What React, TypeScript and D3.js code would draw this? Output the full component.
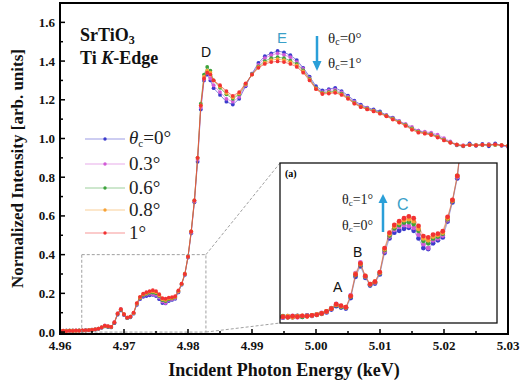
import React from 'react';
import * as d3 from 'd3';

// photon energy grid (keV): fine steps over the pre-edge, 1 eV after the edge
const energy = [
  4.9600, 4.9605, 4.9610, 4.9615, 4.9620, 4.9625, 4.9630, 4.9635, 4.9640, 4.9645,
  4.9650, 4.9655, 4.9660, 4.9665, 4.9670, 4.9675, 4.9680, 4.9685, 4.9690, 4.9695,
  4.9700, 4.9705, 4.9710, 4.9715, 4.9720, 4.9725, 4.9730, 4.9735, 4.9740, 4.9745,
  4.9750, 4.9755, 4.9760, 4.9765, 4.9770, 4.9775, 4.9780, 4.9785,
  4.9790, 4.9795, 4.9800, 4.9805, 4.9810, 4.9815, 4.9820, 4.9825, 4.9830, 4.9835, 4.9840,
  4.985, 4.986, 4.987, 4.988, 4.989, 4.990, 4.991, 4.992, 4.993, 4.994,
  4.995, 4.996, 4.997, 4.998, 4.999, 5.000, 5.001, 5.002, 5.003, 5.004,
  5.005, 5.006, 5.007, 5.008, 5.009, 5.010, 5.011, 5.012, 5.013, 5.014,
  5.015, 5.016, 5.017, 5.018, 5.019, 5.020, 5.021, 5.022, 5.023, 5.024,
  5.025, 5.026, 5.027, 5.028, 5.029, 5.030,
];

const theta0 = [
  0.004, 0.006, 0.007, 0.005, 0.008, 0.006, 0.009, 0.007, 0.010, 0.009,
  0.012, 0.013, 0.016, 0.022, 0.029, 0.026, 0.024, 0.046, 0.090, 0.112,
  0.088, 0.072, 0.076, 0.095, 0.140, 0.170, 0.182, 0.186, 0.190, 0.192,
  0.186, 0.170, 0.150, 0.148, 0.160, 0.166, 0.172, 0.205,
  0.245, 0.295, 0.385, 0.51, 0.67, 0.88, 1.15, 1.30, 1.33, 1.30, 1.26,
  1.225, 1.190, 1.175, 1.205, 1.270, 1.335, 1.390, 1.425, 1.440, 1.452,
  1.445, 1.430, 1.405, 1.365, 1.320, 1.270, 1.248, 1.255, 1.262, 1.245,
  1.222, 1.195, 1.175, 1.160, 1.150, 1.140, 1.120, 1.108, 1.090, 1.072,
  1.050, 1.040, 1.030, 1.025, 1.012, 0.995, 0.980, 0.965, 0.960, 0.975,
  0.962, 0.972, 0.960, 0.975, 0.962, 0.958,
];

const theta03 = [
  0.005, 0.006, 0.008, 0.006, 0.007, 0.009, 0.006, 0.008, 0.010, 0.009,
  0.012, 0.015, 0.017, 0.025, 0.034, 0.029, 0.026, 0.052, 0.098, 0.120,
  0.090, 0.074, 0.078, 0.098, 0.143, 0.174, 0.188, 0.194, 0.198, 0.196,
  0.192, 0.178, 0.158, 0.150, 0.166, 0.170, 0.176, 0.208,
  0.248, 0.298, 0.388, 0.515, 0.675, 0.89, 1.16, 1.305, 1.34, 1.31, 1.275,
  1.240, 1.205, 1.190, 1.215, 1.275, 1.335, 1.380, 1.415, 1.430, 1.440,
  1.432, 1.420, 1.395, 1.360, 1.312, 1.262, 1.240, 1.248, 1.252, 1.238,
  1.215, 1.190, 1.170, 1.158, 1.145, 1.135, 1.120, 1.105, 1.090, 1.075,
  1.060, 1.040, 1.035, 1.030, 1.020, 1.002, 0.985, 0.970, 0.965, 0.970,
  0.968, 0.965, 0.972, 0.968, 0.966, 0.960,
];

const theta06 = [
  0.006, 0.005, 0.007, 0.008, 0.006, 0.007, 0.008, 0.007, 0.009, 0.010,
  0.011, 0.014, 0.018, 0.024, 0.031, 0.028, 0.026, 0.049, 0.094, 0.116,
  0.091, 0.074, 0.079, 0.098, 0.146, 0.176, 0.191, 0.198, 0.203, 0.204,
  0.200, 0.186, 0.165, 0.160, 0.170, 0.174, 0.180, 0.210,
  0.248, 0.300, 0.390, 0.52, 0.68, 0.90, 1.18, 1.33, 1.37, 1.35, 1.30,
  1.262, 1.228, 1.205, 1.228, 1.280, 1.332, 1.372, 1.400, 1.415, 1.420,
  1.415, 1.402, 1.385, 1.352, 1.308, 1.260, 1.236, 1.240, 1.245, 1.232,
  1.210, 1.185, 1.166, 1.154, 1.144, 1.133, 1.118, 1.102, 1.086, 1.070,
  1.052, 1.036, 1.028, 1.022, 1.010, 0.994, 0.980, 0.968, 0.962, 0.968,
  0.965, 0.967, 0.968, 0.966, 0.966, 0.962,
];

const theta08 = [
  0.005, 0.007, 0.006, 0.007, 0.008, 0.006, 0.008, 0.009, 0.008, 0.010,
  0.012, 0.014, 0.018, 0.024, 0.032, 0.029, 0.027, 0.050, 0.096, 0.117,
  0.092, 0.075, 0.080, 0.099, 0.148, 0.179, 0.195, 0.202, 0.208, 0.210,
  0.206, 0.190, 0.170, 0.166, 0.174, 0.177, 0.182, 0.212,
  0.249, 0.300, 0.390, 0.52, 0.68, 0.90, 1.17, 1.32, 1.35, 1.34, 1.30,
  1.268, 1.235, 1.212, 1.232, 1.282, 1.330, 1.368, 1.392, 1.405, 1.410,
  1.405, 1.395, 1.378, 1.346, 1.304, 1.258, 1.233, 1.236, 1.240, 1.228,
  1.208, 1.182, 1.164, 1.152, 1.142, 1.130, 1.116, 1.100, 1.084, 1.068,
  1.048, 1.033, 1.027, 1.020, 1.008, 0.992, 0.979, 0.968, 0.963, 0.967,
  0.965, 0.968, 0.967, 0.968, 0.965, 0.962,
];

const theta1 = [
  0.006, 0.007, 0.005, 0.007, 0.006, 0.008, 0.007, 0.009, 0.008, 0.010,
  0.011, 0.014, 0.018, 0.024, 0.033, 0.030, 0.027, 0.050, 0.095, 0.118,
  0.092, 0.075, 0.080, 0.100, 0.150, 0.182, 0.198, 0.206, 0.212, 0.216,
  0.212, 0.196, 0.175, 0.172, 0.178, 0.180, 0.185, 0.215,
  0.25, 0.30, 0.39, 0.52, 0.68, 0.90, 1.17, 1.31, 1.34, 1.33, 1.30,
  1.275, 1.245, 1.220, 1.240, 1.285, 1.330, 1.365, 1.385, 1.395, 1.398,
  1.395, 1.385, 1.370, 1.340, 1.300, 1.255, 1.230, 1.232, 1.236, 1.225,
  1.205, 1.180, 1.162, 1.150, 1.140, 1.128, 1.115, 1.098, 1.082, 1.065,
  1.045, 1.030, 1.025, 1.018, 1.005, 0.990, 0.978, 0.968, 0.962, 0.966,
  0.964, 0.968, 0.966, 0.970, 0.965, 0.962,
];

const seriesNames = ['0', '0.3°', '0.6°', '0.8°', '1°'];
const seriesValues = [theta0, theta03, theta06, theta08, theta1];
const colors = ['#3b3bcc', '#d25bd6', '#3da33d', '#f7a235', '#f23232'];

const xTicks = [4.96, 4.97, 4.98, 4.99, 5.0, 5.01, 5.02, 5.03];
const yTicks = [0, 0.2, 0.4, 0.6, 0.8, 1.0, 1.2, 1.4, 1.6];

const serif = "'Liberation Serif', 'Times New Roman', Times, serif";
const sans = "'Liberation Sans', Arial, Helvetica, sans-serif";

export default function App() {
  const W = 525, H = 383;
  const m = { top: 3, right: 16, bottom: 49, left: 60 };
  const x = d3.scaleLinear().domain([4.96, 5.03]).range([m.left, W - m.right - 1]);
  const y = d3.scaleLinear().domain([-0.01, 1.7]).range([H - m.bottom, m.top]);

  // inset (a): magnified pre-edge
  const ix = d3.scaleLinear().domain([4.9612, 4.9836]).range([280, 497]);
  const iy = d3.scaleLinear().domain([-0.006, 0.327]).range([323, 163]);

  const series = seriesValues.map((vals, i) => ({
    name: seriesNames[i],
    color: colors[i],
    pts: energy.map((e, j) => ({ e, v: vals[j] })),
  }));

  const line = d3.line<{ e: number; v: number }>().x(d => x(d.e)).y(d => y(d.v));
  const iline = d3.line<{ e: number; v: number }>().x(d => ix(d.e)).y(d => iy(d.v));

  const xMinor = x.ticks(14);
  const yMinor = d3.range(0, 1.65, 0.1);

  const [x0, x1] = x.range();
  const [y0, y1] = y.range();

  // zoom box in data units
  const bx0 = x(4.9634), bx1 = x(4.9828), by0 = y(0.4), by1 = y(0);

  const legendY = [139, 164, 188, 210, 233];

  return (
    <svg width={W} height={H} style={{ position: 'absolute', left: 0, top: 0, background: '#fff' }}>
      <defs>
        <clipPath id="main-clip"><rect x={x0} y={y1} width={x1 - x0} height={y0 - y1} /></clipPath>
        <clipPath id="inset-clip"><rect x={280} y={163} width={217} height={160} /></clipPath>
      </defs>

      {/* data */}
      <g clipPath="url(#main-clip)">
        {series.map(s => (
          <g key={s.name}>
            <path d={line(s.pts) || ''} fill="none" stroke={s.color} strokeWidth={1} opacity={0.6} />
            {s.pts.map((p, j) => (
              <circle key={j} cx={x(p.e)} cy={y(p.v)} r={1.9} fill={s.color} />
            ))}
          </g>
        ))}
      </g>

      {/* zoom box + connectors */}
      <g stroke="#888" strokeWidth={0.8} strokeDasharray="3,2" fill="none">
        <rect x={bx0} y={by0} width={bx1 - bx0} height={by1 - by0} />
        <line x1={bx1} y1={by0} x2={280} y2={163} />
        <line x1={bx1} y1={by1} x2={280} y2={323} />
      </g>

      {/* inset */}
      <rect x={280} y={163} width={217} height={160} fill="#fff" stroke="none" />
      <g clipPath="url(#inset-clip)">
        {series.map(s => (
          <g key={s.name}>
            <path d={iline(s.pts) || ''} fill="none" stroke={s.color} strokeWidth={0.8} opacity={0.5} />
            {s.pts.map((p, j) => (
              <circle key={j} cx={ix(p.e)} cy={iy(p.v)} r={2.4} fill={s.color} />
            ))}
          </g>
        ))}
      </g>
      <rect x={280} y={163} width={217} height={160} fill="none" stroke="#111" strokeWidth={1.3} />
      <text x={285} y={177} fontFamily={serif} fontWeight="bold" fontSize={10}>(a)</text>

      {/* inset annotations */}
      <g fontFamily={serif} fontSize={14} fill="#222">
        <text x={342} y={204}>θ<tspan dy={2} fontSize={9}>c</tspan><tspan dy={-2}>=1°</tspan></text>
        <text x={342} y={230}>θ<tspan dy={2} fontSize={9}>c</tspan><tspan dy={-2}>=0°</tspan></text>
      </g>
      <line x1={383} y1={232} x2={383} y2={202} stroke="#2a9fd8" strokeWidth={2.5} />
      <path d="M378.5,203 L383,194 L387.5,203 Z" fill="#2a9fd8" />
      <text x={397} y={210} fontFamily={sans} fontSize={16} fill="#3aa0c8">C</text>
      <text x={353} y={257} fontFamily={sans} fontSize={14} fill="#111">B</text>
      <text x={333} y={292} fontFamily={sans} fontSize={14} fill="#111">A</text>

      {/* main annotations */}
      <text x={201} y={57} fontFamily={sans} fontSize={14} fill="#111">D</text>
      <text x={277} y={43} fontFamily={sans} fontSize={15} fill="#3aa0c8">E</text>
      <line x1={317} y1={36} x2={317} y2={62} stroke="#2a9fd8" strokeWidth={2.5} />
      <path d="M312.5,61 L317,71 L321.5,61 Z" fill="#2a9fd8" />
      <g fontFamily={serif} fontSize={15} fill="#222">
        <text x={328} y={43}>θ<tspan dy={2} fontSize={10}>c</tspan><tspan dy={-2}>=0°</tspan></text>
        <text x={328} y={68}>θ<tspan dy={2} fontSize={10}>c</tspan><tspan dy={-2}>=1°</tspan></text>
      </g>

      {/* sample label */}
      <g fontFamily={serif} fontWeight="bold" fontSize={18} fill="#111">
        <text x={80} y={41}>SrTiO<tspan dy={3} fontSize={12}>3</tspan></text>
        <text x={80} y={64}>Ti <tspan fontStyle="italic">K</tspan>-Edge</text>
      </g>

      {/* legend */}
      {series.map((s, i) => (
        <g key={s.name} transform={`translate(0,${legendY[i]})`}>
          <line x1={85} x2={125} y1={0} y2={0} stroke={s.color} strokeWidth={1} opacity={0.5} />
          <circle cx={105} cy={0} r={1.7} fill={s.color} />
          {i === 0 ? (
            <text x={129} y={5} fontFamily={serif} fontSize={19} fill="#222">
              <tspan fontStyle="italic">θ</tspan><tspan dy={3} fontSize={11}>c</tspan><tspan dy={-3}>=0°</tspan>
            </text>
          ) : (
            <text x={129} y={6} fontFamily={serif} fontSize={19} fill="#222">{s.name}</text>
          )}
        </g>
      ))}

      {/* axes frame */}
      <rect x={x0} y={y1} width={x1 - x0} height={y0 - y1} fill="none" stroke="#000" strokeWidth={2} />
      <g stroke="#000" strokeWidth={1.5}>
        {xMinor.map(t => (
          <line key={'xm' + t} x1={x(t)} x2={x(t)} y1={y0} y2={y0 - (xTicks.some(v => Math.abs(v - t) < 1e-6) ? 5 : 3)} />
        ))}
        {yMinor.map(t => (
          <line key={'ym' + t} x1={x0} x2={x0 + (yTicks.some(v => Math.abs(v - t) < 1e-6) ? 5 : 3)} y1={y(t)} y2={y(t)} />
        ))}
      </g>
      <g fontFamily={serif} fontWeight="bold" fontSize={13} fill="#111">
        {xTicks.map(t => (
          <text key={'xt' + t} x={x(t)} y={350} textAnchor="middle">{t.toFixed(2)}</text>
        ))}
        {yTicks.map(t => (
          <text key={'yt' + t} x={55} y={y(t) + 4.5} textAnchor="end">{t.toFixed(1)}</text>
        ))}
      </g>
      <text x={(x0 + x1) / 2} y={376} textAnchor="middle" fontFamily={serif} fontWeight="bold" fontSize={18} fill="#111">
        Incident Photon Energy (keV)
      </text>
      <text transform={`translate(23,${(y0 + y1) / 2}) rotate(-90)`} textAnchor="middle" fontFamily={serif} fontWeight="bold" fontSize={17} fill="#111">
        Normalized Intensity [arb. units]
      </text>
    </svg>
  );
}
